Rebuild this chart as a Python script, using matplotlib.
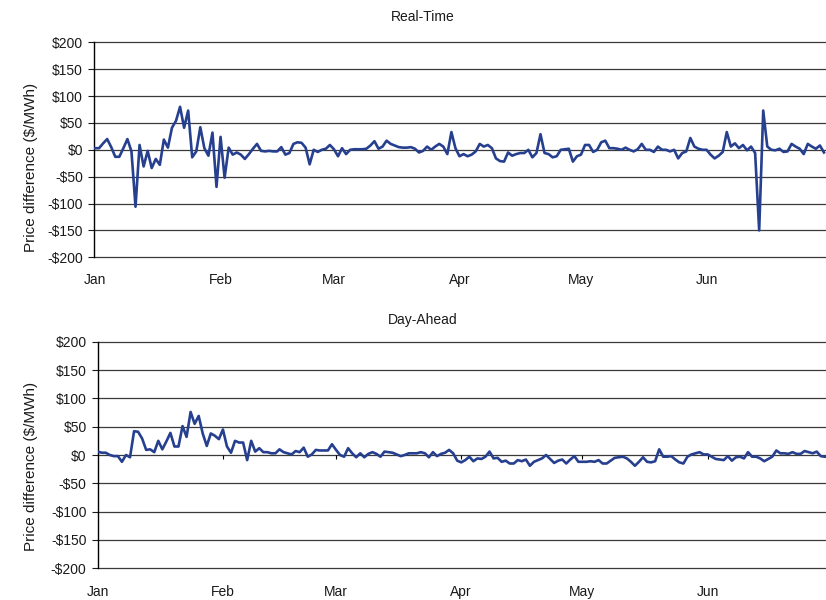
import matplotlib
matplotlib.use("Agg")
import matplotlib.pyplot as plt
import matplotlib.dates as mdates
import pandas as pd
import numpy as np

plt.rcParams['font.family'] = ['Liberation Sans', 'DejaVu Sans']
plt.rcParams['font.size'] = 10

dates = pd.date_range('2011-01-01', '2011-06-30', freq='D')

# Daily price difference, real-time market ($/MWh)
real_time = [
    3, 3, 12, 20, 5, -13, -13, 3, 20, -3,
    -106, 9, -31, -2, -34, -17, -28, 19, 4, 41,
    54, 80, 41, 73, -14, -3, 42, 3, -11, 32,
    -69, 24, -52, 4, -9, -5, -9, -17, -8, 2,
    11, -2, -3, -2, -3, -3, 5, -9, -6, 11,
    14, 13, 4, -27, 0, -4, 0, 2, 9, 1,
    -12, 3, -8, 0, 1, 1, 1, 2, 8, 16,
    2, 6, 17, 11, 8, 5, 4, 4, 5, 2,
    -5, -2, 6, 0, 6, 11, 6, -8, 33, 3,
    -12, -8, -12, -9, -3, 11, 6, 9, 3, -16,
    -21, -22, -5, -11, -8, -6, -6, 0, -14, -6,
    29, -6, -8, -14, -12, 0, 1, 2, -22, -12,
    -9, 9, 9, -4, 0, 14, 17, 3, 3, 2,
    0, 4, 0, -3, 1, 11, 0, 0, -4, 6,
    0, 0, -3, 0, -16, -6, -3, 22, 6, 2,
    0, 0, -9, -16, -11, -4, 33, 6, 12, 3,
    9, -1, 6, -6, -150, 73, 6, 0, -1, 2,
    -4, -3, 11, 6, 2, -8, 11, 6, 2, 8,
    -5,
]

# Daily price difference, day-ahead market ($/MWh)
day_ahead = [
    6, 4, 4, 0, -2, -2, -12, 0, -4, 42,
    41, 29, 9, 10, 5, 25, 10, 24, 39, 15,
    15, 51, 32, 76, 55, 69, 38, 16, 38, 34,
    28, 45, 15, 4, 25, 22, 22, -9, 25, 6,
    12, 5, 5, 3, 3, 10, 5, 3, 1, 7,
    5, 13, -3, 1, 9, 8, 8, 8, 19, 9,
    0, -3, 12, 3, -4, 3, -4, 2, 5, 2,
    -3, 6, 5, 4, 1, -2, 0, 3, 3, 3,
    5, 3, -4, 5, -2, 2, 4, 9, 3, -10,
    -13, -9, -3, -11, -6, -7, -3, 6, -6, -5,
    -12, -10, -15, -15, -9, -11, -8, -19, -12, -9,
    -6, 0, -7, -14, -10, -8, -15, -8, -2, -12,
    -12, -12, -11, -12, -9, -15, -15, -10, -5, -4,
    -3, -6, -12, -19, -12, -4, -12, -13, -11, 10,
    -3, -3, -2, -8, -13, -15, -3, 1, 3, 5,
    1, 1, -3, -7, -8, -9, -2, -10, -4, -3,
    -6, 5, -3, -3, -6, -11, -7, -3, 8, 3,
    3, 2, 5, 2, 2, 7, 5, 3, 6, -2,
    -3,
]

y_ticks = [200, 150, 100, 50, 0, -50, -100, -150, -200]
y_labels = ['$200', '$150', '$100', '$50', '$0', '-$50', '-$100', '-$150', '-$200']

line_color = '#263f8f'
text_color = '#1a1a1a'
grid_color = '#3a3a3a'

W, H = 826, 600
fig = plt.figure(figsize=(W / 100, H / 100), dpi=100)

def px_axes(left, top, right, bottom):
    return fig.add_axes([left / W, 1 - bottom / H, (right - left) / W, (bottom - top) / H])

ax_rt = px_axes(94, 42.3, 826, 257.3)
ax_da = px_axes(97.7, 341.7, 826, 568.3)

month_starts = pd.date_range('2011-01-01', '2011-06-01', freq='MS')

def style(ax, xstart, xend, label_pad, ylabel_x, ylabel_y):
    ax.set_ylim(-200, 200)
    ax.set_yticks(y_ticks)
    ax.set_yticklabels(y_labels)
    ax.set_xlim(xstart, xend)
    ax.xaxis.set_major_locator(mdates.MonthLocator())
    ax.xaxis.set_major_formatter(mdates.DateFormatter('%b'))
    for y in y_ticks:
        ax.axhline(y, color=grid_color, lw=0.9, zorder=1, clip_on=False)
    for s in ['top', 'right', 'bottom']:
        ax.spines[s].set_visible(False)
    ax.spines['left'].set_color('black')
    ax.spines['left'].set_linewidth(1.0)
    ax.tick_params(axis='y', length=4, width=0.8, pad=4, colors=text_color, labelsize=10)
    ax.tick_params(axis='x', length=0, pad=label_pad, colors=text_color, labelsize=10)
    ax.set_ylabel('Price difference ($/MWh)', color=text_color, fontsize=11)
    ax.yaxis.set_label_coords(ylabel_x, ylabel_y)

day = pd.Timedelta(days=1)
style(ax_rt, dates[0] - 0.25 * day, dates[-1] + 0.5 * day, 11.5, -0.0765, 0.42)
style(ax_da, dates[0], dates[-1] + 0.3 * day, 12, -0.082, 0.45)

ax_rt.plot(dates, real_time, color=line_color, lw=1.9, zorder=3, solid_joinstyle='round')
ax_da.plot(dates, day_ahead, color=line_color, lw=1.9, zorder=3, solid_joinstyle='round')

# month tick marks along the zero line of the day-ahead panel
ax_da.vlines(month_starts[1:], -7, 0, color='black', lw=0.8, zorder=2)

fig.text(423 / W, 1 - 17 / H, 'Real-Time', ha='center', va='center', color=text_color, fontsize=10)
fig.text(423 / W, 1 - 320 / H, 'Day-Ahead', ha='center', va='center', color=text_color, fontsize=10)

fig.savefig('out.png', dpi=100)
